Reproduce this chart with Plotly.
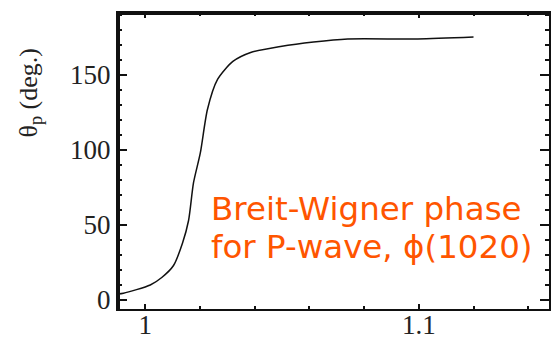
import plotly.graph_objects as go

mass = [0.99, 0.992, 1.0018, 1.006, 1.0103, 1.0136, 1.0158, 1.0176, 1.0201, 1.0227, 1.0264,
        1.032, 1.0385, 1.0494, 1.0615, 1.074, 1.0996, 1.12]
phase = [4.0, 4.5, 10, 15, 23, 38, 53, 78, 98, 127, 147, 159, 165, 169, 172, 174, 174, 175.3]

note_line1 = "Breit-Wigner phase"
note_line2 = "for P-wave, ϕ(1020)"

serif = "Liberation Serif"
ink = "#111111"
fig = go.Figure()
fig.add_trace(go.Scatter(x=mass, y=phase, mode="lines",
                         line=dict(color=ink, width=1.5, shape="spline", smoothing=0.7),
                         showlegend=False, hoverinfo="skip"))

fig.update_layout(
    width=552, height=337,
    margin=dict(l=118, r=3, t=13, b=28),
    paper_bgcolor="white", plot_bgcolor="white",
    xaxis=dict(range=[0.99, 1.1476], tick0=1.0, dtick=0.1, automargin=False,
               ticks="inside", ticklen=5, tickwidth=2, tickcolor=ink,
               minor=dict(dtick=0.02, tick0=1.0, ticks="inside", ticklen=3, tickwidth=2, tickcolor=ink),
               showline=True, linecolor=ink, linewidth=2, mirror="ticks",
               showgrid=False, zeroline=False, ticklabelstandoff=-9,
               tickfont=dict(family=serif, size=27, color="#222")),
    yaxis=dict(range=[-6, 191.3], tick0=0, dtick=50, automargin=False,
               ticks="inside", ticklen=9, tickwidth=2, tickcolor=ink,
               minor=dict(dtick=10, tick0=0, ticks="inside", ticklen=4, tickwidth=2, tickcolor=ink),
               showline=True, linecolor=ink, linewidth=2, mirror="ticks",
               showgrid=False, zeroline=False,
               tickfont=dict(family=serif, size=27, color="#222")),
    shapes=[
        dict(type="line", xref="paper", yref="paper", x0=0, x1=0, y0=0, y1=1,
             line=dict(color=ink, width=4), layer="above"),
        dict(type="line", xref="paper", yref="paper", x0=0, x1=1, y0=1, y1=1,
             line=dict(color=ink, width=4), layer="above"),
    ],
    annotations=[
        dict(text="θ<sub>p</sub> (deg.)", textangle=-90,
             xref="paper", yref="paper", x=-0.205, y=0.73,
             xanchor="center", yanchor="middle", showarrow=False,
             font=dict(family=serif, size=26, color="#222")),
        dict(text=note_line1,
             xref="paper", yref="paper", x=0.21, y=0.338,
             xanchor="left", yanchor="middle", align="left",
             showarrow=False,
             font=dict(family="DejaVu Sans", size=32.5, color="#FF5500")),
        dict(text=note_line2,
             xref="paper", yref="paper", x=0.21, y=0.209,
             xanchor="left", yanchor="middle", align="left",
             showarrow=False,
             font=dict(family="DejaVu Sans", size=32.5, color="#FF5500")),
    ],
)

fig.write_html("out.html", config={"displayModeBar": False},
               post_script="document.body.style.margin='0';document.body.style.overflow='hidden';")
